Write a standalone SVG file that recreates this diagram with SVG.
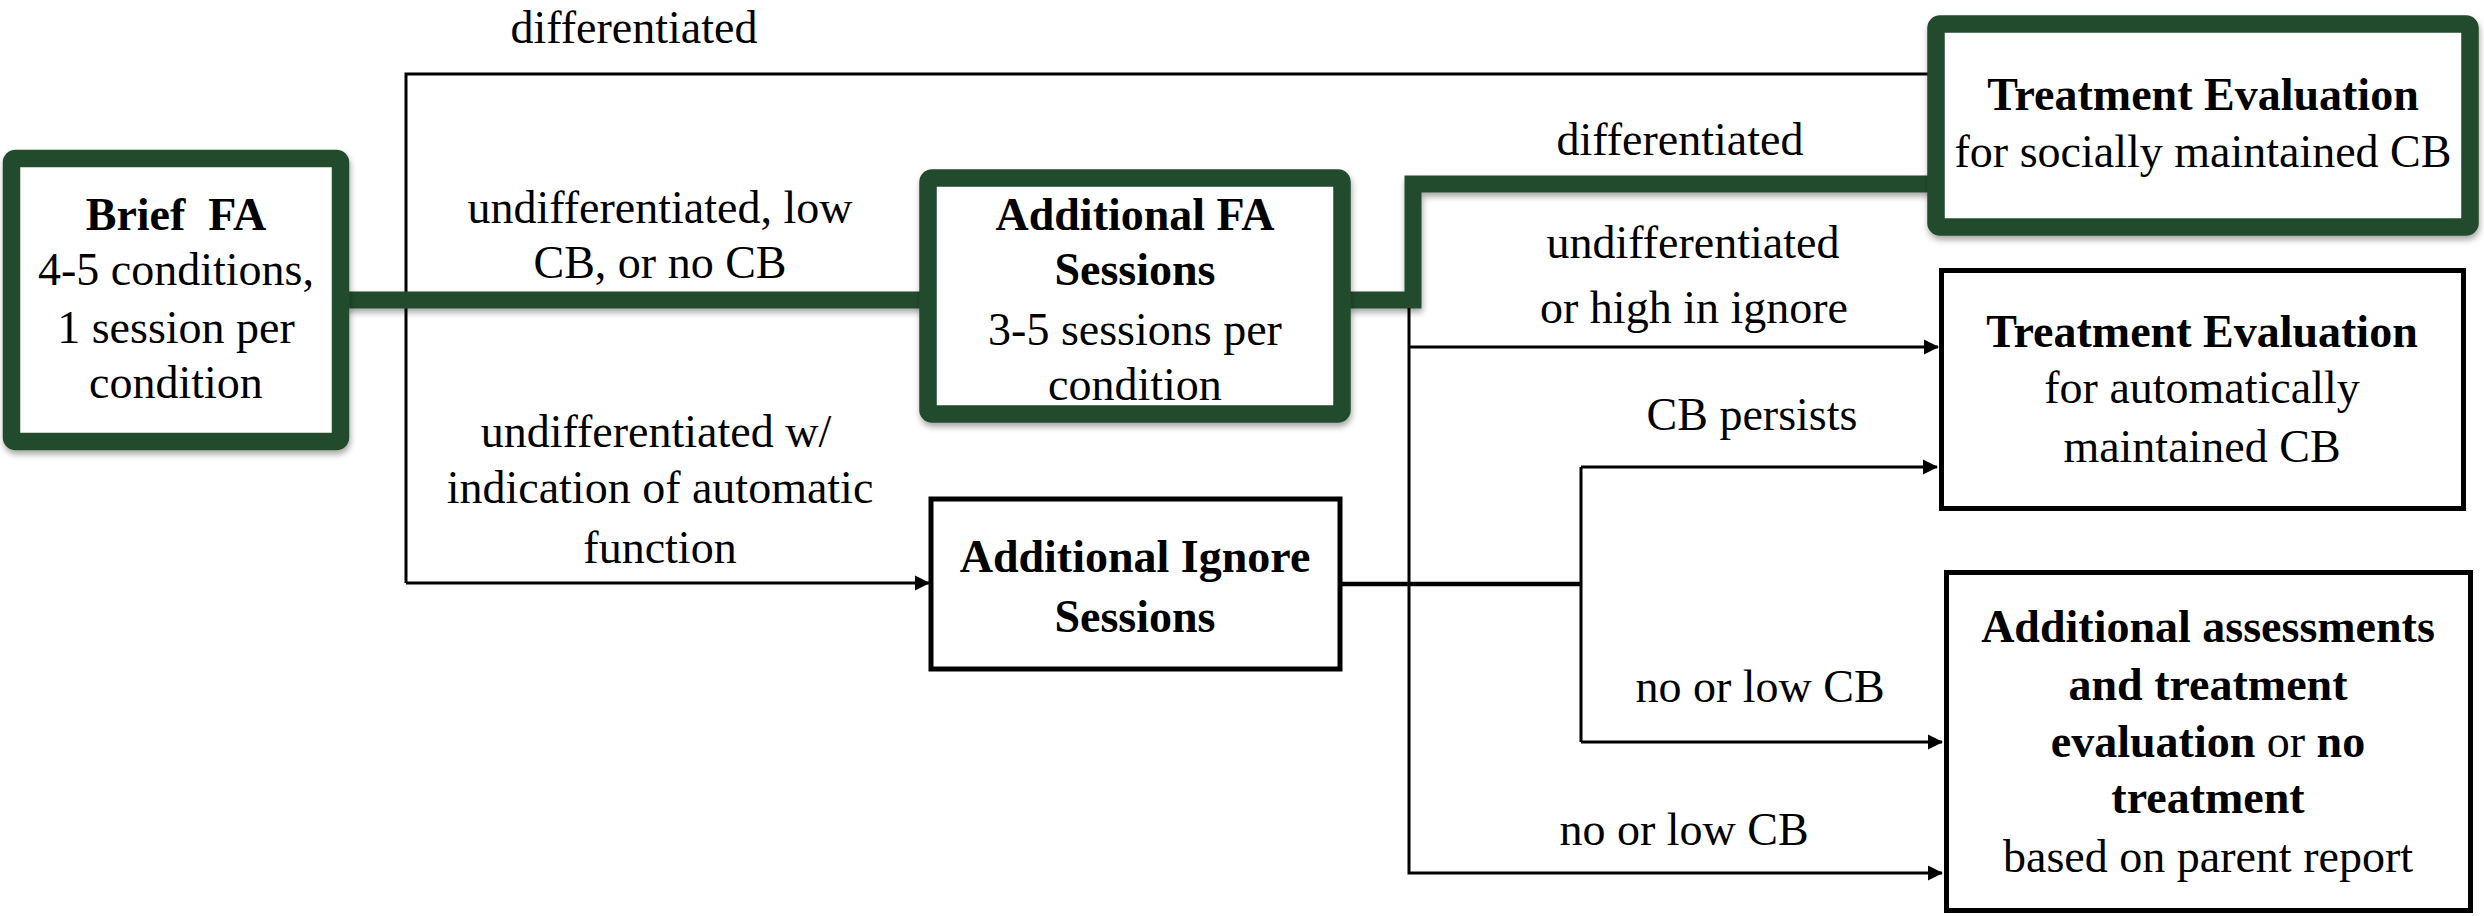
<svg xmlns="http://www.w3.org/2000/svg" width="2484" height="916" viewBox="0 0 2484 916">
  <style>
    text { font-family: "Times New Roman", Times, "Liberation Serif", Tinos, "Noto Serif", "DejaVu Serif", FreeSerif, serif; font-size: 46px; fill: #000; text-anchor: middle; }
    .b { font-weight: bold; }
    .n { font-weight: normal; }
    .thin { fill: none; stroke: #000; stroke-width: 3; }
    .mid { fill: none; stroke: #000; stroke-width: 4.5; }
    .green { fill: none; stroke: #214b2f; stroke-width: 17; stroke-linejoin: miter; filter: url(#shadow); }
    .gbox { fill: #fff; stroke: #214b2f; stroke-width: 17.5; filter: url(#shadow); }
    .kbox { fill: #fff; stroke: #000; stroke-width: 5; }
  </style>
  <defs>
    <filter id="shadow" filterUnits="userSpaceOnUse" x="0" y="0" width="2484" height="916">
      <feDropShadow dx="1" dy="4" stdDeviation="3" flood-color="#000" flood-opacity="0.35"/>
    </filter>
    <marker id="arrow" markerUnits="userSpaceOnUse" markerWidth="16" markerHeight="16" refX="14" refY="8" orient="auto">
      <path d="M0,0.5 L15,8 L0,15.5 z" fill="#000"/>
    </marker>
  </defs>

  <rect width="2484" height="916" fill="#fff"/>

  <!-- connectors -->
  <g id="connectors">
    <!-- split from the Brief FA output -->
    <path class="thin" d="M406,583 V74 H1928"/>
    <path class="thin" d="M406,583 H929" marker-end="url(#arrow)"/>
    <!-- Brief FA to Additional FA -->
    <path class="green" d="M345,300 H922"/>
    <!-- Additional FA to socially maintained evaluation -->
    <path class="green" d="M1348,300 H1413 V184 H1930"/>
    <!-- branches below the bend -->
    <path class="thin" d="M1409,308 V873 H1942" marker-end="url(#arrow)"/>
    <path class="thin" d="M1409,347 H1938" marker-end="url(#arrow)"/>
    <!-- Ignore sessions outputs -->
    <path class="mid" d="M1342,584 H1581"/>
    <path class="thin" d="M1581,467 V742"/>
    <path class="thin" d="M1581,467 H1937" marker-end="url(#arrow)"/>
    <path class="thin" d="M1581,742 H1942" marker-end="url(#arrow)"/>
  </g>

  <!-- connector labels -->
  <g id="labels">
    <text x="634" y="43">differentiated</text>
    <text x="660" y="223">undifferentiated, low</text>
    <text x="660" y="278">CB, or no CB</text>
    <text x="656" y="447">undifferentiated w/</text>
    <text x="660" y="503">indication of automatic</text>
    <text x="660" y="563">function</text>
    <text x="1680" y="155">differentiated</text>
    <text x="1693" y="258">undifferentiated</text>
    <text x="1694" y="323">or high in ignore</text>
    <text x="1752" y="430">CB persists</text>
    <text x="1760" y="702">no or low CB</text>
    <text x="1684" y="845">no or low CB</text>
  </g>

  <g id="brief-fa">
    <rect class="gbox" x="11.5" y="158.5" width="329" height="283" rx="4"/>
    <text class="b" x="176" y="230" xml:space="preserve">Brief  FA</text>
    <text x="176" y="285">4-5 conditions,</text>
    <text x="176" y="343">1 session per</text>
    <text x="176" y="398">condition</text>
  </g>

  <g id="additional-fa">
    <rect class="gbox" x="928" y="178" width="414" height="236" rx="4"/>
    <text class="b" x="1135" y="230">Additional FA</text>
    <text class="b" x="1135" y="285">Sessions</text>
    <text x="1135" y="345">3-5 sessions per</text>
    <text x="1135" y="400">condition</text>
  </g>

  <g id="additional-ignore">
    <rect class="kbox" x="931" y="499" width="409" height="170"/>
    <text class="b" x="1135" y="572">Additional Ignore</text>
    <text class="b" x="1135" y="632">Sessions</text>
  </g>

  <g id="treatment-social">
    <rect class="gbox" x="1936" y="24" width="534" height="203" rx="4"/>
    <text class="b" x="2203" y="110">Treatment Evaluation</text>
    <text x="2203" y="167">for socially maintained CB</text>
  </g>

  <g id="treatment-automatic">
    <rect class="kbox" x="1941.5" y="270.5" width="522" height="238"/>
    <text class="b" x="2202" y="347">Treatment Evaluation</text>
    <text x="2202" y="403">for automatically</text>
    <text x="2202" y="462">maintained CB</text>
  </g>

  <g id="additional-assessments">
    <rect class="kbox" x="1946.5" y="572.5" width="524" height="338"/>
    <text class="b" x="2208" y="642">Additional assessments</text>
    <text class="b" x="2208" y="700">and treatment</text>
    <text class="b" x="2208" y="757">evaluation<tspan class="n"> or </tspan>no</text>
    <text class="b" x="2208" y="813">treatment</text>
    <text x="2208" y="872">based on parent report</text>
  </g>
</svg>
